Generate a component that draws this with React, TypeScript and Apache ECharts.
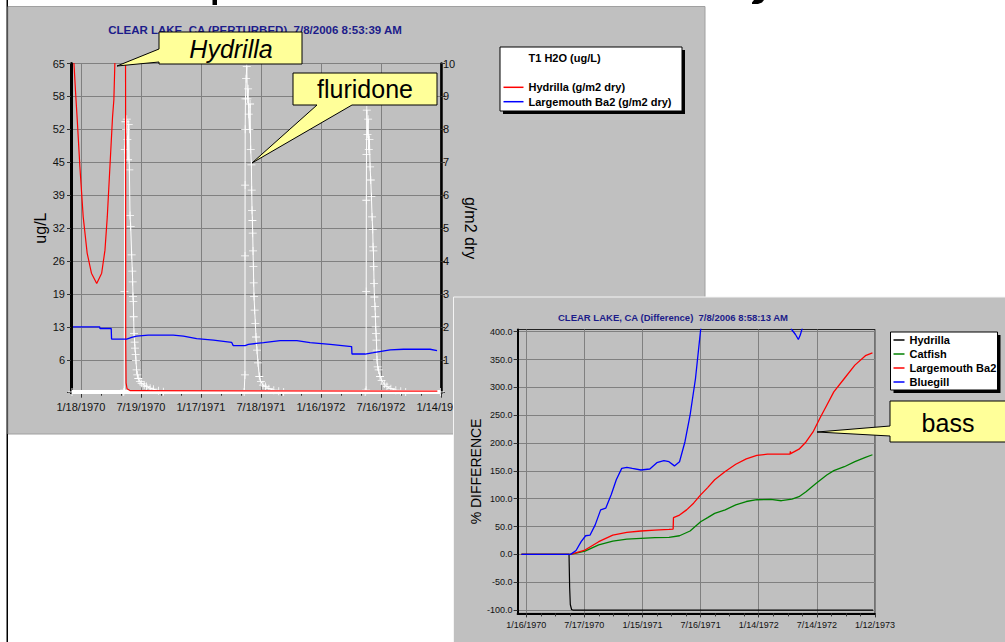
import { useEffect, useRef } from 'react';
import * as echarts from 'echarts';

const FONT = '"Liberation Sans", Arial, Helvetica, sans-serif';

// ---------- Chart 1: CLEAR LAKE, CA (PERTURBED) — x in days since 1/18/1970 ----------
const perturbedTitle = 'CLEAR LAKE, CA (PERTURBED)  7/8/2006 8:53:39 AM';
const perturbedDateTicks = [0, 182, 364, 546, 728, 910, 1092];
const perturbedDateLabels = ['1/18/1970', '7/19/1970', '1/17/1971', '7/18/1971', '1/16/1972', '7/16/1972', '1/14/1973'];

// T1 H2O fluridone concentration (ug/L), left axis
const fluridoneUgL: [number, number][] = [
  [-27, 0.15], [130, 0.15], [131.5, 0.5], [132, 20], [133, 48], [135, 53.5], [137, 52], [139, 54], [141, 50],
  [143, 46], [145, 53], [147, 44], [149, 35], [151, 32.8], [154, 27.2], [156, 24], [157, 21.9], [158, 19],
  [159, 18], [160, 15], [161, 11.7], [163, 10], [164, 8.8], [166, 7.5], [167, 6.4], [169, 4.5], [171, 3.5],
  [174, 2.8], [179, 2.2], [184, 1.85], [192, 1.5], [199, 1.2], [210, 0.9], [220, 0.7], [235, 0.4], [250, 0.2],
  [495, 0.15], [497.5, 3.5], [497.7, 27], [497.9, 41], [498.2, 52], [499, 58], [501, 62], [503, 64.4],
  [505, 58], [507, 60], [509, 55], [511, 52], [513, 57], [515, 48], [517, 45], [518, 40], [519, 36],
  [520, 34], [521, 31.5], [522, 28], [523, 24.9], [524, 21.7], [525, 19], [527, 16.3], [529, 13.7],
  [531, 11], [534, 8.4], [537, 5.9], [541, 3.2], [546, 2.2], [552, 1.5], [560, 1.2], [570, 0.8],
  [585, 0.5], [600, 0.3], [615, 0.15],
  [862, 0.15], [864.8, 0.5], [865.2, 20], [865.6, 38], [866, 47], [867, 55.8], [869, 51], [871, 54],
  [873, 48], [875, 50], [877, 44.6], [879, 42], [881, 38.7], [883, 34.7], [885, 32.2], [886, 28.8],
  [887, 28], [888, 24.9], [889, 21.6], [890, 18.9], [892, 17], [893, 15], [894, 13], [895, 11.7],
  [896, 10.4], [897, 8.4], [898, 6.5], [900, 5.1], [903, 4.5], [907, 3.2], [912, 2.4], [920, 1.7],
  [928, 1.2], [940, 0.8], [955, 0.5], [970, 0.3], [985, 0.15], [1090, 0.15],
];
// dense near-zero daily readings (drawn as a band)
const fluridoneBaseline: [number, number][] = [[-27, 0.15], [1090, 0.15]];

// Hydrilla biomass (g/m2 dry), right axis
const hydrillaGm2: [number, number][] = [
  [-30, 11.6], [-21, 10.0], [-16, 9.1], [-11, 8.28], [-3, 6.86], [7, 5.34], [19, 4.24], [32, 3.63],
  [48, 3.32], [63, 3.63], [73, 4.33], [80, 5.34], [88, 6.86], [96, 8.38], [100, 8.9], [103, 10.0],
  [110, 12.0], [125, 13.0], [135, 12.5], [135.7, 8], [136, 1.5], [137, 0.3], [140, 0.12], [150, 0.06],
  [1081, 0.05],
];

// Largemouth bass biomass (g/m2 dry), right axis
const largemouthGm2: [number, number][] = [
  [-24, 2.0], [57, 2.0], [58, 1.95], [92, 1.95], [93, 1.63], [139, 1.63], [154, 1.68], [169, 1.72],
  [204, 1.75], [280, 1.75], [311, 1.72], [351, 1.64], [402, 1.6], [457, 1.53], [462, 1.43], [498, 1.43],
  [508, 1.47], [554, 1.52], [604, 1.58], [655, 1.58], [695, 1.52], [756, 1.47], [821, 1.4], [822, 1.175],
  [862, 1.175], [887, 1.215], [938, 1.3], [978, 1.32], [1059, 1.32], [1080, 1.275],
];

// ---------- Chart 2: CLEAR LAKE, CA (Difference) — x in days since 1/16/1970 ----------
const differenceTitle = 'CLEAR LAKE, CA (Difference)  7/8/2006 8:58:13 AM';
const differenceDateTicks = [0, 182, 364, 546, 728, 910, 1092];
const differenceDateLabels = ['1/16/1970', '7/17/1970', '1/15/1971', '7/16/1971', '1/14/1972', '7/14/1972', '1/12/1973'];
const differencePctTicks = [-100, -50, 0, 50, 100, 150, 200, 250, 300, 350, 400];

const hydrillaPct: [number, number][] = [
  [-15, 0], [134, 0], [136, -60], [138, -90], [142, -99], [146, -100], [1086, -100],
];
const catfishPct: [number, number][] = [
  [-15, 0], [139, 0], [184, 6], [227, 17], [271, 24], [315, 27.5], [359, 28.8], [403, 30], [447, 30.5],
  [480, 33.5], [513, 42], [546, 58.7], [568, 66], [590, 73.7], [623, 80], [656, 89], [689, 95],
  [722, 98.2], [766, 98.8], [799, 96.4], [832, 99.4], [854, 103.6], [876, 112.6], [908, 127.6],
  [941, 142.6], [963, 150.4], [996, 157.5], [1029, 166.5], [1062, 174.3], [1084, 179],
];
const largemouthPct: [number, number][] = [
  [-15, 0], [139, 0], [184, 7.8], [227, 22.8], [271, 34.7], [315, 39.5], [359, 42], [403, 43.7],
  [447, 45], [460, 45.5], [461, 66], [480, 70.7], [502, 80], [524, 92], [546, 107], [568, 120],
  [590, 134], [623, 149], [656, 162], [689, 171.6], [722, 177.7], [755, 180], [799, 180], [826, 180],
  [827, 185], [828, 181], [854, 189], [876, 202], [898, 220], [919, 244], [941, 268], [963, 292],
  [996, 316], [1029, 340], [1062, 357], [1084, 362],
];
const bluegillPct: [number, number][] = [
  [-15, 0], [139, 0], [156, 7], [172, 22.8], [186, 33.5], [200, 34.7], [216, 53], [233, 80], [249, 83],
  [266, 107], [282, 134], [299, 154.5], [315, 156.4], [332, 154.5], [359, 151.6], [387, 153.4],
  [409, 164.7], [431, 168.3], [447, 166.5], [464, 159], [480, 166.5], [497, 202.4], [513, 250],
  [530, 316], [546, 403], [560, 460], [620, 560], [700, 600], [780, 520], [831, 404], [843, 395],
  [852, 386], [858, 394], [863, 404], [900, 470], [1000, 560], [1084, 620],
];

const subTicks = (majors: number[], parts: number): number[] => {
  const out: number[] = [];
  for (let i = 0; i < majors.length - 1; i++) {
    const step = (majors[i + 1] - majors[i]) / parts;
    for (let k = 0; k < parts; k++) out.push(majors[i] + k * step);
  }
  out.push(majors[majors.length - 1]);
  return out;
};

const labelFor = (ticks: number[], labels: string[]) => (v: number) => {
  const i = ticks.findIndex((t) => Math.abs(t - v) < 0.5);
  return i >= 0 ? labels[i] : '';
};

const CROSS = 'path://M0,3.6L8,3.6L8,4.4L0,4.4Z M3.6,0L4.4,0L4.4,8L3.6,8Z';
const YELLOW = '#ffff99';

const option: any = {
  animation: false,
  backgroundColor: '#ffffff',
  textStyle: { fontFamily: FONT },
  title: [
    {
      text: perturbedTitle, left: 255, top: 24, padding: 0, textAlign: 'center', z: 4,
      textStyle: { fontFamily: FONT, fontSize: 11.5, fontWeight: 'bold', color: '#1c1c8a' },
    },
    {
      text: differenceTitle, left: 673, top: 312.5, padding: 0, textAlign: 'center', z: 13,
      textStyle: { fontFamily: FONT, fontSize: 9.5, fontWeight: 'bold', color: '#1c1c8a' },
    },
  ],
  grid: [
    { left: 71, top: 63.5, width: 370, height: 329.2, show: true, borderColor: '#000', borderWidth: 1, z: 3, outerBoundsMode: 'none', containLabel: false },
    { left: 517.6, top: 329.5, width: 357.4, height: 283.9, show: true, borderColor: '#222', borderWidth: 1, z: 12, outerBoundsMode: 'none', containLabel: false },
  ],
  xAxis: [
    {
      type: 'value', gridIndex: 0, min: -30, max: 1092, position: 'bottom', z: 3,
      axisLine: { show: true, onZero: false, lineStyle: { color: '#000', width: 2.5 } },
      axisTick: { show: true, customValues: perturbedDateTicks, length: 5, lineStyle: { color: '#333', width: 1 } },
      axisLabel: { customValues: perturbedDateTicks, formatter: labelFor(perturbedDateTicks, perturbedDateLabels), fontFamily: FONT, fontSize: 11, color: '#111', margin: 9 },
      splitLine: { show: true, lineStyle: { color: '#808080', width: 1 } },
    },
    {
      type: 'value', gridIndex: 0, min: -30, max: 1092, position: 'bottom', z: 3,
      axisLine: { show: false, onZero: false },
      axisTick: { show: true, customValues: subTicks(perturbedDateTicks, 3), length: 3, lineStyle: { color: '#333', width: 1 } },
      axisLabel: { show: false },
      splitLine: { show: false },
    },
    {
      type: 'value', gridIndex: 1, min: -27, max: 1092, position: 'bottom', z: 13,
      axisLine: { show: true, onZero: false, lineStyle: { color: '#000', width: 2 } },
      axisTick: { show: true, customValues: differenceDateTicks, length: 4, lineStyle: { color: '#333', width: 1 } },
      axisLabel: { customValues: differenceDateTicks, formatter: labelFor(differenceDateTicks, differenceDateLabels), fontFamily: FONT, fontSize: 9, color: '#111', margin: 7 },
      splitLine: { show: true, lineStyle: { color: '#808080', width: 1 } },
    },
    {
      type: 'value', gridIndex: 1, min: -27, max: 1092, position: 'bottom', z: 13,
      axisLine: { show: false, onZero: false },
      axisTick: { show: true, customValues: subTicks(differenceDateTicks, 4), length: 3, lineStyle: { color: '#333', width: 1 } },
      axisLabel: { show: false },
      splitLine: { show: false },
    },
  ],
  yAxis: [
    {
      type: 'value', gridIndex: 0, min: 0, max: 65, interval: 6.5, position: 'left', z: 3,
      name: 'ug/L', nameLocation: 'middle', nameGap: 22,
      nameTextStyle: { fontFamily: FONT, fontSize: 16, color: '#000' },
      axisLine: { show: true, onZero: false, lineStyle: { color: '#000', width: 3 } },
      axisTick: { show: true, length: 4, lineStyle: { color: '#333', width: 1 } },
      axisLabel: { fontFamily: FONT, fontSize: 11, color: '#111', margin: 6, formatter: (v: number) => (v === 0 ? '' : String(Math.floor(v + 1e-9))) },
      splitLine: { show: true, lineStyle: { color: '#808080', width: 1 } },
    },
    {
      type: 'value', gridIndex: 0, min: 0, max: 10, interval: 1, position: 'right', z: 3,
      name: 'g/m2 dry', nameLocation: 'middle', nameGap: 21, nameRotate: -90,
      nameTextStyle: { fontFamily: FONT, fontSize: 16, color: '#000' },
      axisLine: { show: true, onZero: false, lineStyle: { color: '#000', width: 2.5 } },
      axisTick: { show: true, length: 4, lineStyle: { color: '#333', width: 1 } },
      axisLabel: { fontFamily: FONT, fontSize: 11, color: '#111', margin: 2, formatter: (v: number) => (v === 0 ? '' : String(v)) },
      splitLine: { show: false },
    },
    {
      type: 'value', gridIndex: 1, min: -106, max: 404, position: 'left', z: 13,
      name: '% DIFFERENCE', nameLocation: 'middle', nameGap: 34,
      nameTextStyle: { fontFamily: FONT, fontSize: 14, color: '#000' },
      axisLine: { show: true, onZero: false, lineStyle: { color: '#000', width: 2 } },
      axisTick: { show: true, customValues: differencePctTicks, length: 4, lineStyle: { color: '#333', width: 1 } },
      axisLabel: { customValues: differencePctTicks, fontFamily: FONT, fontSize: 9, color: '#111', margin: 5, formatter: (v: number) => v.toFixed(1) },
      splitLine: { show: true, lineStyle: { color: '#808080', width: 1 } },
    },
  ],
  legend: [
    {
      data: ['T1 H2O (ug/L)'], left: 503.5, top: 51, padding: 0, itemWidth: 20, itemHeight: 2, icon: 'rect',
      selectedMode: false, z: 8,
      textStyle: { fontFamily: FONT, fontSize: 11, fontWeight: 'bold', color: '#000', lineHeight: 13 },
    },
    {
      data: ['Hydrilla (g/m2 dry)', 'Largemouth Ba2 (g/m2 dry)'], orient: 'vertical', left: 503.5, top: 80.8,
      padding: 0, itemWidth: 20, itemHeight: 1.5, itemGap: 1.4, icon: 'rect', selectedMode: false, z: 8,
      textStyle: { fontFamily: FONT, fontSize: 11, fontWeight: 'bold', color: '#000', lineHeight: 13 },
    },
    {
      data: ['Hydrilla', 'Catfish', 'Largemouth Ba2', 'Bluegill'], orient: 'vertical', left: 893.5, top: 333.5,
      padding: 0, itemWidth: 11, itemHeight: 1.5, itemGap: 1, icon: 'rect', selectedMode: false, z: 19,
      textStyle: { fontFamily: FONT, fontSize: 11, fontWeight: 'bold', color: '#000', lineHeight: 13 },
    },
  ],
  series: [
    {
      name: 'T1 H2O (ug/L)', type: 'line', xAxisIndex: 0, yAxisIndex: 0, data: fluridoneBaseline,
      symbol: 'none', lineStyle: { color: '#ffffff', width: 4 }, itemStyle: { color: '#ffffff' }, z: 4, silent: true,
    },
    {
      name: 'T1 H2O (ug/L)', type: 'line', xAxisIndex: 0, yAxisIndex: 0, data: fluridoneUgL,
      symbol: CROSS, symbolSize: [8, 8], showSymbol: true,
      lineStyle: { color: '#ffffff', width: 1 }, itemStyle: { color: '#ffffff' }, z: 5,
    },
    {
      name: 'Hydrilla (g/m2 dry)', type: 'line', xAxisIndex: 0, yAxisIndex: 1, data: hydrillaGm2,
      symbol: 'none', lineStyle: { color: '#ff0000', width: 1.2 }, itemStyle: { color: '#ff0000' }, z: 6,
    },
    {
      name: 'Largemouth Ba2 (g/m2 dry)', type: 'line', xAxisIndex: 0, yAxisIndex: 1, data: largemouthGm2,
      symbol: 'none', lineStyle: { color: '#0000ff', width: 1.3 }, itemStyle: { color: '#0000ff' }, z: 6,
    },
    {
      name: 'Hydrilla', type: 'line', xAxisIndex: 2, yAxisIndex: 2, data: hydrillaPct,
      symbol: 'none', lineStyle: { color: '#000000', width: 1.2 }, itemStyle: { color: '#000000' }, z: 15,
    },
    {
      name: 'Catfish', type: 'line', xAxisIndex: 2, yAxisIndex: 2, data: catfishPct,
      symbol: 'none', lineStyle: { color: '#008000', width: 1.3 }, itemStyle: { color: '#008000' }, z: 15,
    },
    {
      name: 'Largemouth Ba2', type: 'line', xAxisIndex: 2, yAxisIndex: 2, data: largemouthPct,
      symbol: 'none', lineStyle: { color: '#ff0000', width: 1.3 }, itemStyle: { color: '#ff0000' }, z: 15,
    },
    {
      name: 'Bluegill', type: 'line', xAxisIndex: 2, yAxisIndex: 2, data: bluegillPct,
      symbol: 'none', lineStyle: { color: '#0000ff', width: 1.3 }, itemStyle: { color: '#0000ff' }, z: 15,
    },
  ],
  graphic: {
    elements: [
      // slide frame & cut-off title glyphs
      { type: 'rect', z: 0, shape: { x: 6.5, y: 0, width: 1.5, height: 642 }, style: { fill: '#000' } },
      { type: 'rect', z: 0, shape: { x: 212.5, y: 0, width: 4.5, height: 5 }, style: { fill: '#000' } },
      { type: 'polygon', z: 0, shape: { points: [[754, 0], [764, 0], [762, 2.5], [758, 4], [752, 4], [752, 2.5]] }, style: { fill: '#000' } },
      // panel 1
      { type: 'rect', z: 1, shape: { x: 8, y: 6.5, width: 697, height: 427.5 }, style: { fill: '#c0c0c0', stroke: '#a0a0a0', lineWidth: 1 } },
      // legend 1 box
      { type: 'rect', z: 7, shape: { x: 503, y: 50, width: 182, height: 64 }, style: { fill: '#000' } },
      { type: 'rect', z: 7.5, shape: { x: 500, y: 47, width: 182, height: 64 }, style: { fill: '#fff', stroke: '#000', lineWidth: 1 } },
      // panel 2
      { type: 'rect', z: 10, shape: { x: 453.5, y: 297, width: 553, height: 346 }, style: { fill: '#c0c0c0', stroke: '#f4f4f4', lineWidth: 1 } },
      // legend 2 box
      { type: 'rect', z: 17, shape: { x: 893.5, y: 335, width: 107, height: 58 }, style: { fill: '#000' } },
      { type: 'rect', z: 18, shape: { x: 890.5, y: 332, width: 107, height: 58 }, style: { fill: '#fff', stroke: '#000', lineWidth: 1 } },
      // callouts
      {
        type: 'polygon', z: 30,
        shape: { points: [[159, 32], [302, 32], [302, 64], [159, 64], [159, 62], [117, 66], [159, 49]] },
        style: { fill: YELLOW, stroke: '#000', lineWidth: 1 },
      },
      {
        type: 'text', z: 31, x: 231, y: 48.5,
        style: { text: 'Hydrilla', font: `italic 25px ${FONT}`, fill: '#000', textAlign: 'center', textVerticalAlign: 'middle' },
      },
      {
        type: 'polygon', z: 30,
        shape: { points: [[293, 73], [437, 73], [437, 105], [352, 105], [252, 163], [317, 105], [293, 105]] },
        style: { fill: YELLOW, stroke: '#000', lineWidth: 1 },
      },
      {
        type: 'text', z: 31, x: 365, y: 89,
        style: { text: 'fluridone', font: `25px ${FONT}`, fill: '#000', textAlign: 'center', textVerticalAlign: 'middle' },
      },
      {
        type: 'polygon', z: 30,
        shape: { points: [[890, 401], [1010, 401], [1010, 442], [890, 442], [890, 436], [817, 432], [890, 426]] },
        style: { fill: YELLOW, stroke: '#000', lineWidth: 1 },
      },
      {
        type: 'text', z: 31, x: 948, y: 422.5,
        style: { text: 'bass', font: `25px ${FONT}`, fill: '#000', textAlign: 'center', textVerticalAlign: 'middle' },
      },
    ],
  },
};

export default function App() {
  const ref = useRef<HTMLDivElement>(null);
  useEffect(() => {
    if (!ref.current) return;
    const chart = echarts.init(ref.current, null, { renderer: 'svg' });
    chart.setOption(option);
    return () => chart.dispose();
  }, []);
  return <div ref={ref} style={{ position: 'fixed', left: 0, top: 0, width: 1005, height: 642 }} />;
}
